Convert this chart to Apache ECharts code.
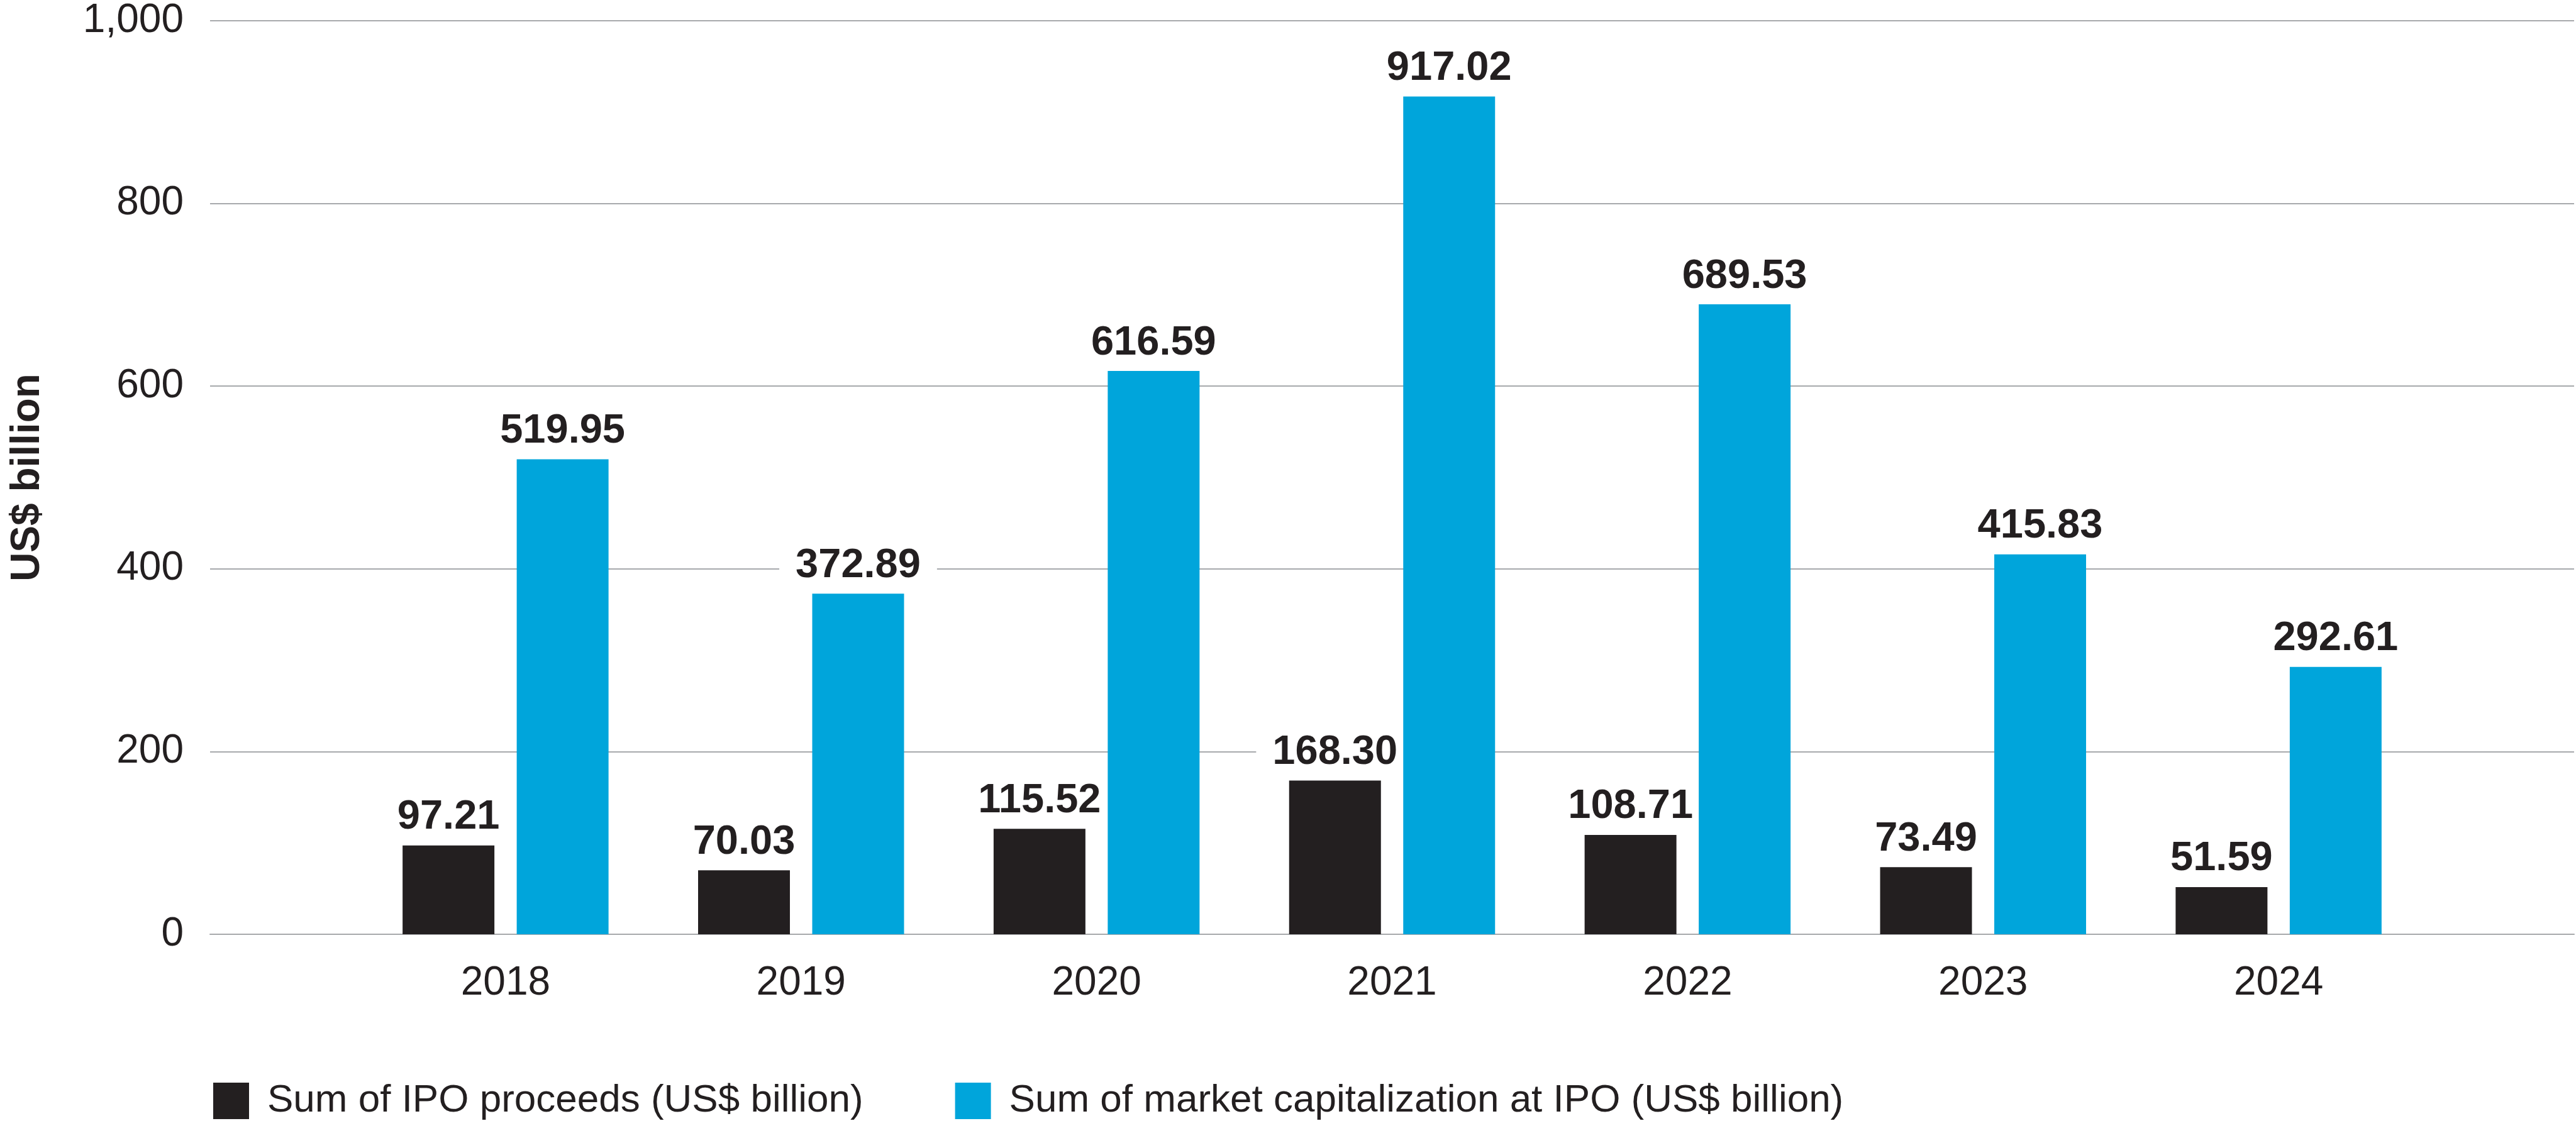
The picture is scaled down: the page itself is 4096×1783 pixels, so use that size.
<!DOCTYPE html>
<html>
<head>
<meta charset="utf-8">
<script src="https://cdn.jsdelivr.net/npm/echarts@6/dist/echarts.min.js"></script>
<style>
  html, body { margin: 0; padding: 0; background: #fff; }
  #chart { width: 4096px; height: 1783px; }
</style>
</head>
<body>
<div id="chart"></div>
<script>
// data
const years = ['2018', '2019', '2020', '2021', '2022', '2023', '2024']
const ipoProceeds = [97.21, 70.03, 115.52, 168.30, 108.71, 73.49, 51.59]
const marketCap = [519.95, 372.89, 616.59, 917.02, 689.53, 415.83, 292.61]
const yTicks = [0, 200, 400, 600, 800, 1000]

const DARK = '#231f20'
const BLUE = '#00a5db'
const GRID_GREY = '#a7a9ac'
const LABEL_FONT = '"Liberation Sans", Arial, sans-serif'

// empty slot on each side so the plot runs half a band past the first / last year
const xCats = [''].concat(years, [''])
const pad = (arr) => ['-'].concat(arr, ['-'])

const chart = echarts.init(document.getElementById('chart'))

// white box behind the numbers hides the gridlines they sit on
const valueLabel = {
  show: true,
  position: 'top',
  distance: 12,
  fontFamily: LABEL_FONT,
  fontWeight: 'bold',
  fontSize: 65,
  color: DARK,
  backgroundColor: '#ffffff',
  padding: [2, 26, 0, 26],
  formatter: (p) => Number(p.value).toFixed(2),
}

chart.setOption({
  animation: false,
  textStyle: { fontFamily: LABEL_FONT },
  grid: { left: 334, right: 3, top: 33, bottom: 297 },
  legend: {
    left: 334,
    top: 1715,
    itemWidth: 57,
    itemHeight: 58,
    itemGap: 146,
    icon: 'rect',
    textStyle: {
      fontFamily: LABEL_FONT,
      fontSize: 62,
      color: DARK,
      padding: [0, 0, 0, 24],
    },
    data: ['Sum of IPO proceeds (US$ billion)', 'Sum of market capitalization at IPO (US$ billion)'],
  },
  xAxis: {
    type: 'category',
    data: xCats,
    boundaryGap: false,
    axisTick: { show: false },
    axisLine: { lineStyle: { color: GRID_GREY, width: 2 } },
    axisLabel: {
      interval: 0,
      margin: 46,
      fontSize: 64,
      color: DARK,
    },
  },
  yAxis: {
    type: 'value',
    min: yTicks[0],
    max: yTicks[yTicks.length - 1],
    interval: 200,
    name: 'US$ billion',
    nameLocation: 'middle',
    nameGap: 258,
    nameTextStyle: {
      fontFamily: LABEL_FONT,
      fontWeight: 'bold',
      fontSize: 64,
      color: DARK,
    },
    axisLine: { show: false },
    axisTick: { show: false },
    splitLine: { lineStyle: { color: GRID_GREY, width: 2 } },
    axisLabel: {
      margin: 42,
      fontSize: 64,
      color: DARK,
      formatter: (v) => v.toLocaleString('en-US'),
    },
  },
  series: [
    {
      name: 'Sum of IPO proceeds (US$ billion)',
      type: 'bar',
      z: 2,
      data: pad(ipoProceeds),
      barWidth: 146,
      barGap: '24.3%',
      itemStyle: { color: DARK },
      label: valueLabel,
    },
    {
      name: 'Sum of market capitalization at IPO (US$ billion)',
      type: 'bar',
      z: 3, // blue bars sit above the black labels' white boxes
      data: pad(marketCap),
      barWidth: 146,
      itemStyle: { color: BLUE },
      label: valueLabel,
    },
  ],
})
</script>
</body>
</html>
